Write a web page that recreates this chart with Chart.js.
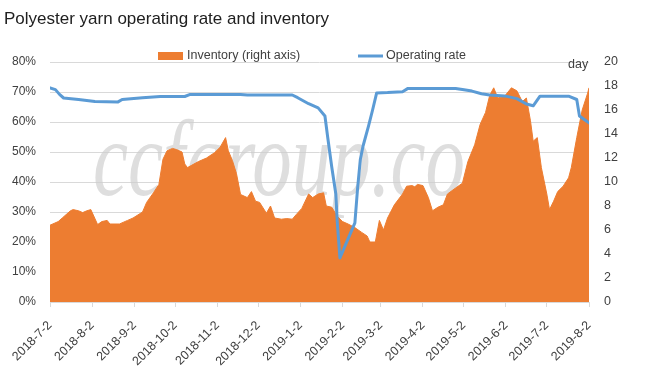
<!DOCTYPE html>
<html>
<head>
<meta charset="utf-8">
<script src="https://cdn.jsdelivr.net/npm/chart.js"></script>
<style>
html,body{margin:0;padding:0;background:#ffffff;}
canvas{display:block;}
</style>
</head>
<body>
<canvas id="c" width="651" height="382"></canvas>
<script>
// ---- data ----
const chartTitle = 'Polyester yarn operating rate and inventory';
const seriesNames = ['Inventory (right axis)', 'Operating rate'];
const tickLabels = ['2018-7-2','2018-8-2','2018-9-2','2018-10-2','2018-11-2','2018-12-2','2019-1-2','2019-2-2','2019-3-2','2019-4-2','2019-5-2','2019-6-2','2019-7-2','2019-8-2'];
const leftTicks = [0,10,20,30,40,50,60,70,80];
const rightTicks = [0,2,4,6,8,10,12,14,16,18,20];
const rightUnit = 'day';
const watermark = 'ccfgroup.co';

const inventoryDates = ['2018-7-2','2018-7-8','2018-7-11','2018-7-17','2018-7-19','2018-7-23','2018-7-26','2018-7-29','2018-8-1','2018-8-6','2018-8-9','2018-8-13','2018-8-15','2018-8-22','2018-8-28','2018-9-1','2018-9-8','2018-9-11','2018-9-16','2018-9-20','2018-9-23','2018-9-26','2018-9-30','2018-10-3','2018-10-7','2018-10-9','2018-10-11','2018-10-19','2018-10-25','2018-10-31','2018-11-4','2018-11-8','2018-11-10','2018-11-13','2018-11-16','2018-11-19','2018-11-24','2018-11-27','2018-11-30','2018-12-3','2018-12-8','2018-12-11','2018-12-14','2018-12-19','2018-12-23','2018-12-27','2018-12-30','2019-1-3','2019-1-8','2019-1-11','2019-1-15','2019-1-19','2019-1-21','2019-1-25','2019-1-29','2019-2-2','2019-2-6','2019-2-11','2019-2-16','2019-2-20','2019-2-22','2019-2-26','2019-3-1','2019-3-4','2019-3-7','2019-3-12','2019-3-18','2019-3-21','2019-3-25','2019-3-27','2019-3-29','2019-4-2','2019-4-6','2019-4-9','2019-4-13','2019-4-17','2019-4-20','2019-4-26','2019-5-1','2019-5-5','2019-5-10','2019-5-14','2019-5-18','2019-5-21','2019-5-24','2019-5-27','2019-6-1','2019-6-6','2019-6-10','2019-6-14','2019-6-17','2019-6-20','2019-6-22','2019-6-25','2019-6-28','2019-7-2','2019-7-4','2019-7-7','2019-7-10','2019-7-14','2019-7-18','2019-7-20','2019-7-24','2019-7-28','2019-8-1','2019-8-2'];
const inventoryDays = [6.4,6.7,7.0,7.6,7.7,7.6,7.45,7.6,7.7,6.45,6.7,6.8,6.5,6.5,6.8,7.0,7.5,8.3,9.1,9.8,11.9,12.6,12.8,12.7,12.5,11.5,11.2,11.7,12.0,12.45,12.9,13.7,12.6,11.8,10.7,8.96,8.7,9.2,8.4,8.3,7.4,8.0,7.0,6.9,6.95,6.9,7.3,7.8,9.0,8.7,9.0,9.1,8.0,7.9,7.15,6.7,6.5,6.2,5.8,5.5,5.0,5.0,6.8,6.0,7.0,8.1,9.0,9.65,9.7,9.6,9.8,9.7,8.7,7.6,7.9,8.1,9.0,9.5,9.9,11.7,13.1,14.8,15.8,17.2,17.85,17.0,17.15,17.85,17.6,16.7,17.0,15.1,13.4,13.7,11.2,9.0,7.7,8.4,9.2,9.65,10.35,11.2,13.7,16.0,17.4,17.85];

const rateDates = ['2018-7-2','2018-7-6','2018-7-9','2018-7-12','2018-7-23','2018-8-4','2018-8-21','2018-8-24','2018-9-8','2018-9-21','2018-10-9','2018-10-13','2018-11-19','2018-11-24','2018-12-27','2018-12-31','2019-1-8','2019-1-15','2019-1-20','2019-1-22','2019-1-25','2019-1-28','2019-1-29','2019-1-31','2019-2-11','2019-2-13','2019-2-15','2019-2-17','2019-2-21','2019-2-24','2019-2-27','2019-3-7','2019-3-18','2019-3-22','2019-4-26','2019-5-1','2019-5-8','2019-5-15','2019-5-21','2019-6-1','2019-6-10','2019-6-17','2019-6-22','2019-6-27','2019-7-18','2019-7-24','2019-7-26','2019-7-29','2019-8-2'];
const ratePercent = [71.4,70.8,69.2,68.0,67.5,66.8,66.7,67.5,68.1,68.5,68.5,69.2,69.2,69.0,69.0,68.1,66.1,64.7,62.0,55.0,45.0,36.0,27.0,14.7,26.4,38.0,47.5,52.0,58.6,64.0,69.7,69.8,70.1,71.2,71.2,70.8,70.3,69.4,69.0,68.7,67.8,66.0,65.4,68.6,68.6,67.5,62.0,61.0,59.7];

// ---- helpers ----
function toUTC(s){ const p = s.split('-').map(Number); return Date.UTC(p[0], p[1]-1, p[2]); }
const t0 = toUTC(tickLabels[0]);
function dayOf(s){ return Math.round((toUTC(s) - t0) / 86400000); }

const ORANGE = '#ED7D31';
const BLUE = '#5B9BD5';
const TEXT = '#404040';
const GRID = '#D9D9D9';
const FONT = '"Liberation Sans", Arial, sans-serif';

const decor = {
  id: 'decor',
  beforeDatasetsDraw(chart){
    const ctx = chart.ctx;
    ctx.save();
    ctx.font = 'italic 108px "Liberation Serif", serif';
    const w = ctx.measureText(watermark).width;
    ctx.translate(93, 195);
    ctx.scale(372 / w, 1);
    ctx.fillStyle = 'rgba(205,205,205,0.65)';
    ctx.textBaseline = 'alphabetic';
    ctx.textAlign = 'left';
    ctx.fillText(watermark, 0, 0);
    ctx.restore();
  },
  afterDraw(chart){
    const ctx = chart.ctx;
    ctx.save();
    ctx.font = '12.5px ' + FONT;
    ctx.fillStyle = TEXT;
    ctx.textBaseline = 'middle';
    ctx.textAlign = 'left';
    // legend
    ctx.fillStyle = ORANGE;
    ctx.fillRect(158, 52, 25, 8);
    ctx.fillStyle = TEXT;
    ctx.fillText(seriesNames[0], 187, 56);
    ctx.strokeStyle = BLUE;
    ctx.lineWidth = 3;
    ctx.beginPath(); ctx.moveTo(358, 56); ctx.lineTo(383, 56); ctx.stroke();
    ctx.fillText(seriesNames[1], 386, 56);
    // right axis unit
    ctx.fillText(rightUnit, 568, 65);
    ctx.restore();
  }
};

new Chart(document.getElementById('c'), {
  type: 'line',
  data: {
    datasets: [
      {
        label: seriesNames[0],
        data: inventoryDates.map((d, i) => ({ x: dayOf(d), y: inventoryDays[i] })),
        yAxisID: 'y1',
        fill: 'origin',
        backgroundColor: ORANGE,
        borderColor: ORANGE,
        borderWidth: 1,
        pointRadius: 0,
        tension: 0,
        order: 2
      },
      {
        label: seriesNames[1],
        data: rateDates.map((d, i) => ({ x: dayOf(d), y: ratePercent[i] })),
        yAxisID: 'y',
        fill: false,
        borderColor: BLUE,
        backgroundColor: BLUE,
        borderWidth: 3,
        borderJoinStyle: 'round',
        borderCapStyle: 'round',
        pointRadius: 0,
        tension: 0,
        order: 1
      }
    ]
  },
  options: {
    responsive: false,
    animation: false,
    devicePixelRatio: 1,
    layout: { padding: { left: 4, right: 0, top: 0, bottom: 0 } },
    plugins: {
      legend: { display: false },
      tooltip: { enabled: false },
      title: {
        display: true,
        text: chartTitle,
        align: 'start',
        color: '#202020',
        font: { family: FONT, size: 17, weight: 'normal' },
        padding: { top: 9, bottom: 32.6 }
      }
    },
    scales: {
      x: {
        type: 'linear',
        min: 0,
        max: dayOf(tickLabels[tickLabels.length - 1]),
        afterBuildTicks(scale){ scale.ticks = tickLabels.map(l => ({ value: dayOf(l) })); },
        afterFit(scale){ scale.height = 80; },
        grid: { drawOnChartArea: false, drawTicks: true, tickLength: 5, color: GRID },
        border: { display: true, color: GRID, width: 1 },
        ticks: {
          autoSkip: false,
          minRotation: 45,
          maxRotation: 45,
          padding: 11,
          color: TEXT,
          font: { family: FONT, size: 12.5 },
          callback: (v, i) => tickLabels[i]
        }
      },
      y: {
        position: 'left',
        min: leftTicks[0],
        max: leftTicks[leftTicks.length - 1],
        afterBuildTicks(scale){ scale.ticks = leftTicks.map(v => ({ value: v })); },
        afterFit(scale){ scale.width = 46; },
        grid: { color: GRID, drawTicks: false, lineWidth: 1 },
        border: { display: false },
        ticks: { padding: 14, color: TEXT, font: { family: FONT, size: 12 }, callback: v => v + '%' }
      },
      y1: {
        position: 'right',
        min: rightTicks[0],
        max: rightTicks[rightTicks.length - 1],
        afterBuildTicks(scale){ scale.ticks = rightTicks.map(v => ({ value: v })); },
        afterFit(scale){ scale.width = 62; },
        grid: { drawOnChartArea: false, drawTicks: false },
        border: { display: false },
        ticks: { padding: 15, color: TEXT, font: { family: FONT, size: 12.5 }, callback: v => String(v) }
      }
    }
  },
  plugins: [decor]
});
</script>
</body>
</html>
